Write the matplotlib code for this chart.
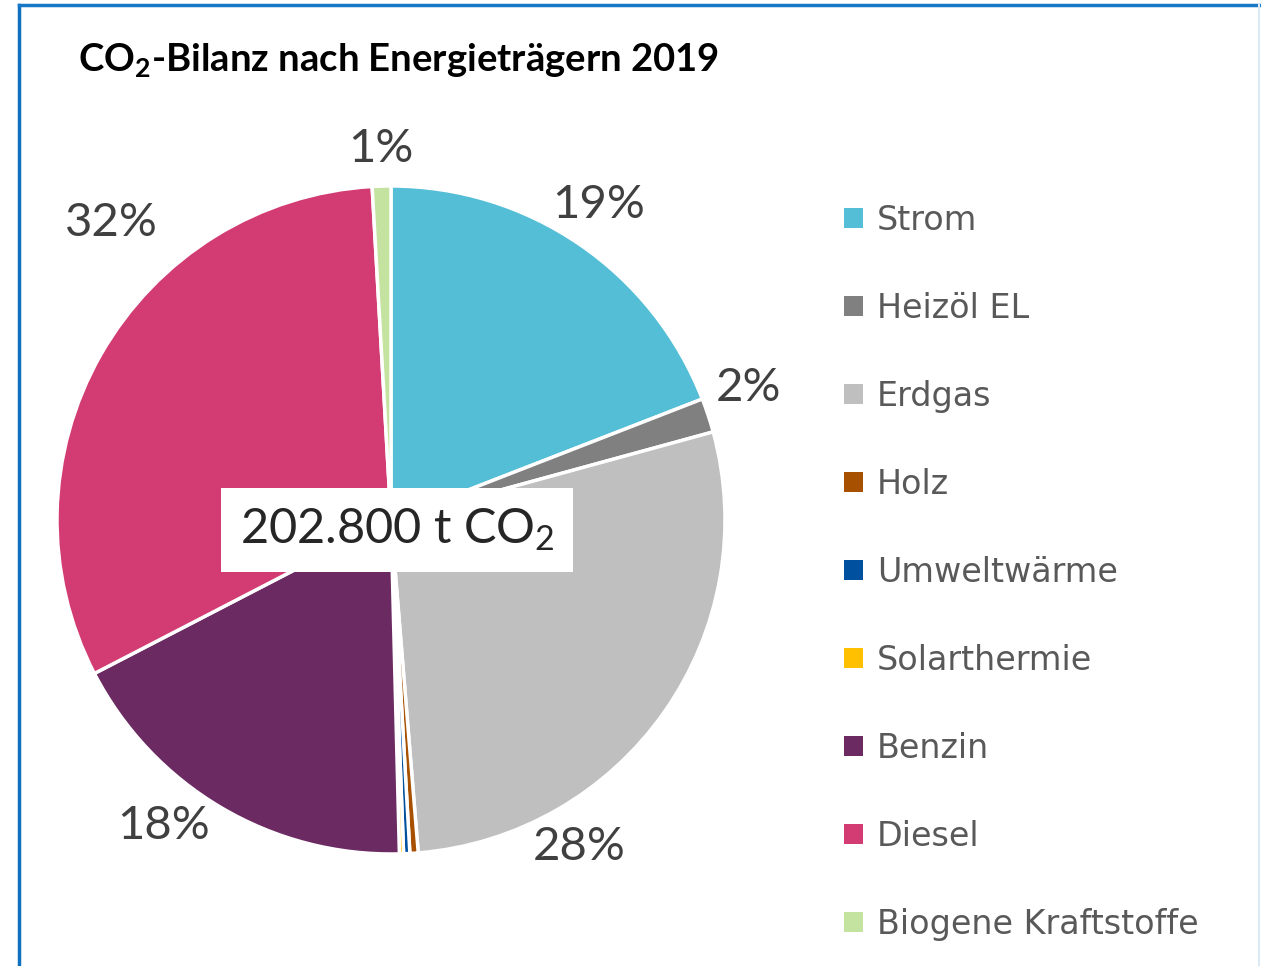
import numpy as np
import matplotlib.pyplot as plt
from matplotlib.lines import Line2D
from matplotlib.patches import Patch

plt.rcParams["font.family"] = ["Lato", "DejaVu Sans"]
plt.rcParams["mathtext.default"] = "regular"

categories = ["Strom", "Heizöl EL", "Erdgas", "Holz", "Umweltwärme",
              "Solarthermie", "Benzin", "Diesel", "Biogene Kraftstoffe"]
shares = [19.1, 1.65, 27.95, 0.4, 0.3, 0.2, 17.8, 31.7, 0.9]
colors = ["#53BED6", "#808080", "#BFBFBF", "#A65000", "#0050A0",
          "#FFC000", "#6B2B62", "#D33B73", "#C5E3A0"]
total_label = "202.800 t CO$_2$"
title = "CO$_2$-Bilanz nach Energieträgern 2019"

# label placement (degrees shifted clockwise from the wedge middle, radius)
label_shift = [1, 2, -25, 0, 0, 0, -6, -17, 0]
label_radius = [1.13, 1.14, 1.13, 1.13, 1.13, 1.13, 1.14, 1.22, 1.11]

W, H = 1261, 966
fig = plt.figure(figsize=(W / 100, H / 100), dpi=100)

# pie centre and radius in pixels
cx, cy, r = 391, 520, 334
ax = fig.add_axes([(cx - r) / W, (H - cy - r) / H, 2 * r / W, 2 * r / H])


def pct(p):
    return f"{p:.0f}%" if p >= 0.5 else ""


wedges, texts, autotexts = ax.pie(
    shares, colors=colors, startangle=90, counterclock=False,
    autopct=pct, pctdistance=1.14,
    wedgeprops=dict(edgecolor="white", linewidth=2.5),
    textprops=dict(color="#404040", fontsize=34),
)
for w, t, shift, rad in zip(wedges, autotexts, label_shift, label_radius):
    ang = np.deg2rad((w.theta1 + w.theta2) / 2 + shift)
    t.set_position((rad * np.cos(ang), rad * np.sin(ang)))

ax.set_xlim(-1, 1)
ax.set_ylim(-1, 1)
ax.set_aspect("equal")

ax.text(0.018, -0.03, total_label, ha="center", va="center", fontsize=35,
        color="#262626",
        bbox=dict(facecolor="white", edgecolor="none", boxstyle="square,pad=0.38"))

fig.text(78 / W, 1 - 60 / H, title, fontsize=27.5, fontweight="bold",
         ha="left", va="center", color="black")

handles = [Patch(facecolor=c, edgecolor="none") for c in colors]
leg = fig.legend(handles, categories, loc="upper left",
                 bbox_to_anchor=(814 / W, 1 - 174 / H), frameon=False,
                 prop=dict(family=["DejaVu Sans"], size=24),
                 labelspacing=1.65, handlelength=0.57,
                 handleheight=0.57, handletextpad=0.42, labelcolor="#595959")

# chart frame
fig.add_artist(Line2D([19 / W, 19 / W], [0, 1 - 5 / H], color="#1070C0",
                      linewidth=2.5, transform=fig.transFigure))
fig.add_artist(Line2D([19 / W, 1259 / W], [1 - 5 / H, 1 - 5 / H], color="#1878C8",
                      linewidth=2.5, transform=fig.transFigure))
fig.add_artist(Line2D([1259 / W, 1259 / W], [0, 1 - 5 / H], color="#DCE9F5",
                      linewidth=1.5, transform=fig.transFigure))

fig.savefig("out.png", dpi=100)
